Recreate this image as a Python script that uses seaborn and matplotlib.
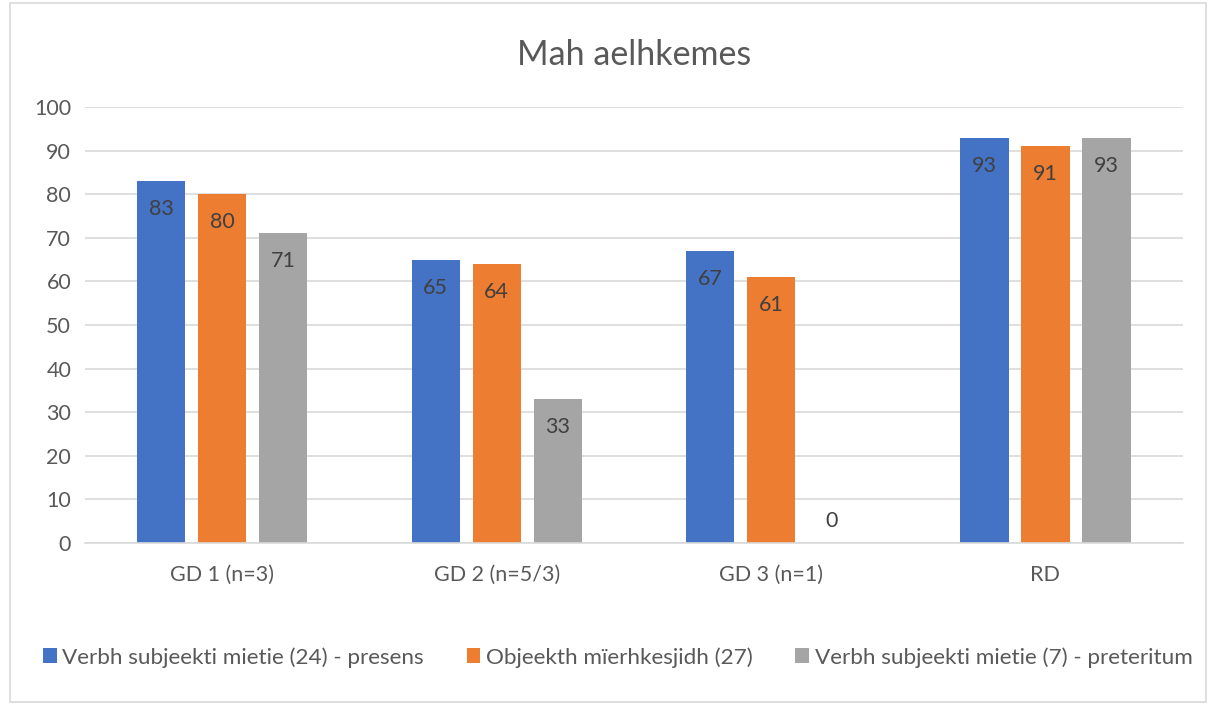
import numpy as np
import pandas as pd
import matplotlib as mpl
from matplotlib import pyplot as plt
import seaborn as sns

sns.set_theme(style="white")
plt.rcParams['font.family'] = ['Lato', 'DejaVu Sans']

# data
groups = ['GD 1 (n=3)', 'GD 2 (n=5/3)', 'GD 3 (n=1)', 'RD']
series = ['Verbh subjeekti mietie (24) - presens',
          'Objeekth mïerhkesjidh (27)',
          'Verbh subjeekti mietie (7) - preteritum']
presens = [83, 65, 67, 93]
objeekth = [80, 64, 61, 91]
preteritum = [71, 33, 0, 93]
colors = ['#4472c4', '#ed7d31', '#a5a5a5']

df = pd.DataFrame({
    'grp': groups * 3,
    'serie': [series[0]] * 4 + [series[1]] * 4 + [series[2]] * 4,
    'val': presens + objeekth + preteritum,
})

fig = plt.figure(figsize=(12.08, 7.04), dpi=100)
ax = fig.add_axes([0.0704, 0.2287, 0.9086, 0.6193])

sns.barplot(data=df, x='grp', y='val', hue='serie', palette=colors,
            width=0.667, gap=0.21, saturation=1, linewidth=0, ax=ax, legend=True)

txt = '#595959'
grid = '#d9d9d9'
ax.set_ylim(0, 100)
ax.set_yticks(range(0, 101, 10))
ax.yaxis.grid(True, color=grid, linewidth=1.2)
ax.set_axisbelow(True)
for s in ['top', 'right', 'left']:
    ax.spines[s].set_visible(False)
ax.spines['bottom'].set_color(grid)
ax.spines['bottom'].set_linewidth(1.2)
ax.tick_params(axis='both', length=0, labelsize=15.5, colors=txt, pad=10)
ax.tick_params(axis='x', pad=16)
ax.set_xlabel('')
ax.set_ylabel('')
ax.set_title('Mah aelhkemes', fontsize=24.5, color=txt, pad=30)

for cont in ax.containers:
    for bar in cont:
        h = bar.get_height()
        off = -28 if h > 0 else 22
        ax.annotate(f'{h:.0f}', (bar.get_x() + bar.get_width() / 2, h),
                    xytext=(0, off), textcoords='offset pixels',
                    ha='center', va='center', fontsize=15.5, color='#404040')

handles, labels = ax.get_legend_handles_labels()
ax.legend(handles, labels, loc='center', bbox_to_anchor=(0.4855, -0.262),
          ncol=3, frameon=False, fontsize=16.2, labelcolor=txt,
          handlelength=0.6, handleheight=0.6, handletextpad=0.25,
          columnspacing=1.9)

fig.patches.append(mpl.patches.Rectangle((0.008, 0.003), 0.99, 0.993,
                                         transform=fig.transFigure,
                                         fill=False, edgecolor=grid, linewidth=1.2))

plt.savefig('out.png', dpi=100)
